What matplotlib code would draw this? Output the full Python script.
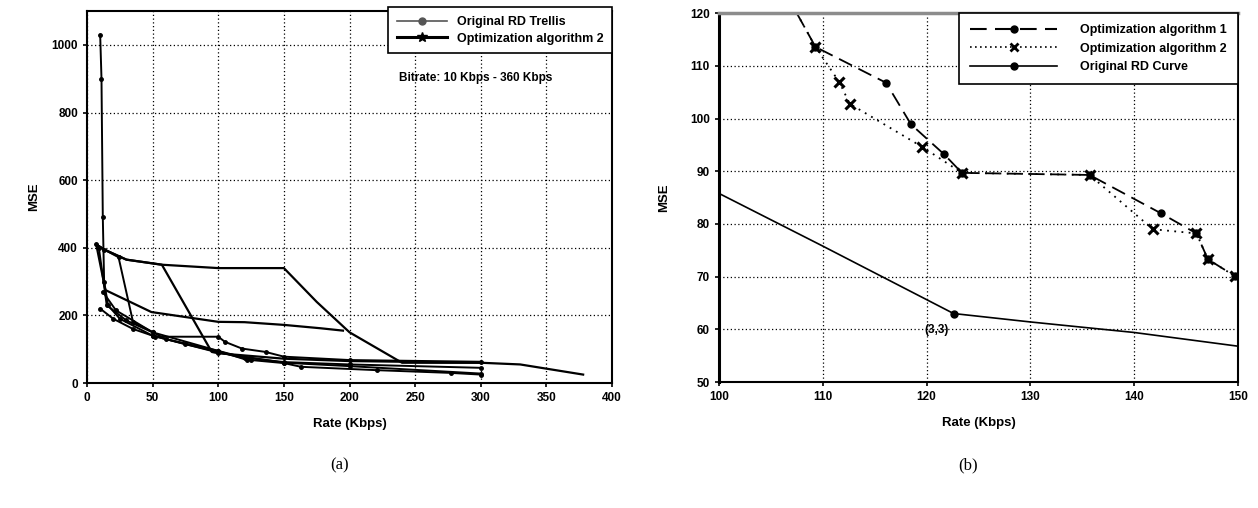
import matplotlib.pyplot as plt
from matplotlib.lines import Line2D

plt.rcParams['font.family'] = ['Liberation Sans', 'DejaVu Sans']

# ---- (a) rate vs MSE, several trellis / optimisation curves ----
spike_rate = [10, 11, 12, 13, 16, 25, 50, 100, 150, 200, 300]
spike_mse = [1030, 900, 490, 300, 230, 190, 140, 90, 60, 50, 28]

upper_rate = [7, 13, 30, 57, 100, 150, 175, 200, 240, 300, 330, 378]
upper_mse = [410, 395, 365, 350, 340, 340, 240, 150, 60, 60, 55, 25]

steep_rate = [7, 13, 24, 35, 60, 100, 120, 150, 200, 300]
steep_mse = [410, 395, 372, 181, 130, 95, 75, 62, 55, 45]

mid_rate = [7, 14, 49, 100, 120, 150, 178, 195]
mid_mse = [410, 275, 210, 181, 180, 172, 162, 155]

cross_rate = [7, 13, 30, 57, 95, 100, 150, 200, 300]
cross_mse = [410, 395, 365, 350, 92, 88, 72, 65, 60]

step_rate = [12, 22, 50, 52, 100, 105, 118, 136, 150, 200, 300]
step_mse = [270, 215, 150, 137, 137, 122, 102, 92, 78, 68, 63]

low_rate = [10, 20, 35, 50, 75, 100, 125, 150, 163, 221, 277, 300]
low_mse = [220, 190, 160, 140, 115, 92, 68, 59, 48, 38, 30, 25]

short_rate = [9, 15, 30, 50, 100, 122]
short_mse = [400, 230, 185, 150, 95, 68]

# ---- (b) zoom 100-150 Kbps ----
alg1_rate = [107.5, 109.3, 116.1, 118.5, 121.7, 123.4, 135.7, 142.6, 146.0, 147.1, 149.7]
alg1_mse = [120.0, 113.6, 106.8, 98.9, 93.2, 89.7, 89.3, 82.0, 78.2, 73.3, 70.1]

alg2_rate = [107.5, 109.3, 111.6, 112.6, 119.6, 123.4, 135.7, 141.8, 146.0, 147.1, 149.7]
alg2_mse = [120.0, 113.6, 106.9, 102.8, 94.6, 89.7, 89.3, 79.0, 78.2, 73.3, 70.1]

orig_rate = [100, 110, 122.6, 130, 140, 150]
orig_mse = [85.8, 75.8, 63.0, 61.4, 59.4, 56.8]

fig = plt.figure(figsize=(12.58, 5.08), dpi=100)
ax1 = fig.add_axes([0.0692, 0.246, 0.4173, 0.732])
ax2 = fig.add_axes([0.5715, 0.248, 0.4126, 0.726])

grid_kw = dict(color='black', linestyle=(0, (1, 2)), linewidth=0.9)

# left panel
for r, m in [(low_rate, low_mse), (short_rate, short_mse), (step_rate, step_mse),
             (steep_rate, steep_mse), (spike_rate, spike_mse)]:
    ax1.plot(r, m, color='black', linewidth=1.4, marker='o', markersize=2.5)
for r, m in [(mid_rate, mid_mse), (cross_rate, cross_mse), (upper_rate, upper_mse)]:
    ax1.plot(r, m, color='black', linewidth=1.6)

ax1.set_xlim(0, 400)
ax1.set_ylim(0, 1100)
ax1.set_xticks(range(0, 401, 50))
ax1.set_yticks(range(0, 1001, 200))
ax1.grid(True, **grid_kw)
ax1.tick_params(direction='out', length=3, width=1.2)
for lab in ax1.get_xticklabels() + ax1.get_yticklabels():
    lab.set_fontsize(8.5)
    lab.set_fontweight('bold')
for sp in ax1.spines.values():
    sp.set_linewidth(1.5)
ax1.set_xlabel('Rate (Kbps)', fontsize=9.5, fontweight='bold', labelpad=10)
ax1.set_ylabel('MSE', fontsize=9.5, fontweight='bold', labelpad=8)

h1 = [Line2D([], [], color='#555555', linewidth=1.2, marker='o', markersize=5,
             markerfacecolor='#555555'),
      Line2D([], [], color='black', linewidth=2.2, marker='*', markersize=7)]
leg1 = ax1.legend(h1, ['Original RD Trellis', 'Optimization algorithm 2'],
                  loc='upper right', bbox_to_anchor=(1.0, 1.01), borderaxespad=0,
                  fancybox=False, edgecolor='black', framealpha=1, handlelength=4,
                  handletextpad=0.8, prop=dict(size=9, weight='bold'),
                  borderpad=0.7, labelspacing=0.35)
leg1.get_frame().set_linewidth(1.2)
ax1.text(0.74, 0.82, 'Bitrate: 10 Kbps - 360 Kbps', transform=ax1.transAxes,
         ha='center', va='center', fontsize=8.5, fontweight='bold')

# right panel
ax2.plot(alg1_rate, alg1_mse, color='black', linewidth=1.3, linestyle=(0, (8, 4)),
         marker='o', markersize=5, markevery=list(range(1, len(alg1_rate))))
ax2.plot(alg2_rate, alg2_mse, color='black', linewidth=1.3, linestyle=(0, (1, 3)),
         marker='x', markersize=7, markeredgewidth=2.2,
         markevery=list(range(1, len(alg2_rate))))
ax2.plot(orig_rate[2:3], orig_mse[2:3], 'o', color='black', markersize=5)
ax2.plot(orig_rate, orig_mse, color='black', linewidth=1.2)
ax2.text(121.0, 59.8, '(3,3)', ha='center', va='center', fontsize=8.5, fontweight='bold')

ax2.set_xlim(100, 150)
ax2.set_ylim(50, 120)
ax2.set_xticks(range(100, 151, 10))
ax2.set_yticks(range(50, 121, 10))
ax2.grid(True, **grid_kw)
ax2.tick_params(direction='out', length=3, width=1.2)
for lab in ax2.get_xticklabels() + ax2.get_yticklabels():
    lab.set_fontsize(8.5)
    lab.set_fontweight('bold')
ax2.spines['left'].set_linewidth(2.2)
ax2.spines['bottom'].set_linewidth(1.5)
ax2.spines['right'].set_linewidth(1.5)
ax2.spines['top'].set_linewidth(2.5)
ax2.spines['top'].set_color('#8c8c8c')
ax2.set_xlabel('Rate (Kbps)', fontsize=9.5, fontweight='bold', labelpad=10)
ax2.set_ylabel('MSE', fontsize=9.5, fontweight='bold', labelpad=14)

h2 = [Line2D([], [], color='black', linewidth=1.5, linestyle=(0, (8, 4)), marker='o', markersize=5),
      Line2D([], [], color='black', linewidth=1.2, linestyle=(0, (1, 2)), marker='x',
             markersize=6, markeredgewidth=2),
      Line2D([], [], color='black', linewidth=1.2, marker='o', markersize=5)]
leg2 = ax2.legend(h2, ['Optimization algorithm 1', 'Optimization algorithm 2', 'Original RD Curve'],
                  loc='upper right', bbox_to_anchor=(1.0, 1.0), borderaxespad=0,
                  fancybox=False, edgecolor='black', framealpha=1, handlelength=7.0,
                  handletextpad=1.8, prop=dict(size=9, weight='bold'),
                  borderpad=0.9, labelspacing=0.5)
leg2.get_frame().set_linewidth(1.2)

fig.text(340 / 1258, 1 - 465 / 508, '(a)', ha='center', va='center',
         fontsize=12, family=['Liberation Serif', 'DejaVu Serif'])
fig.text(968 / 1258, 1 - 465 / 508, '(b)', ha='center', va='center',
         fontsize=12, family=['Liberation Serif', 'DejaVu Serif'])

fig.savefig('out.png', dpi=100)
